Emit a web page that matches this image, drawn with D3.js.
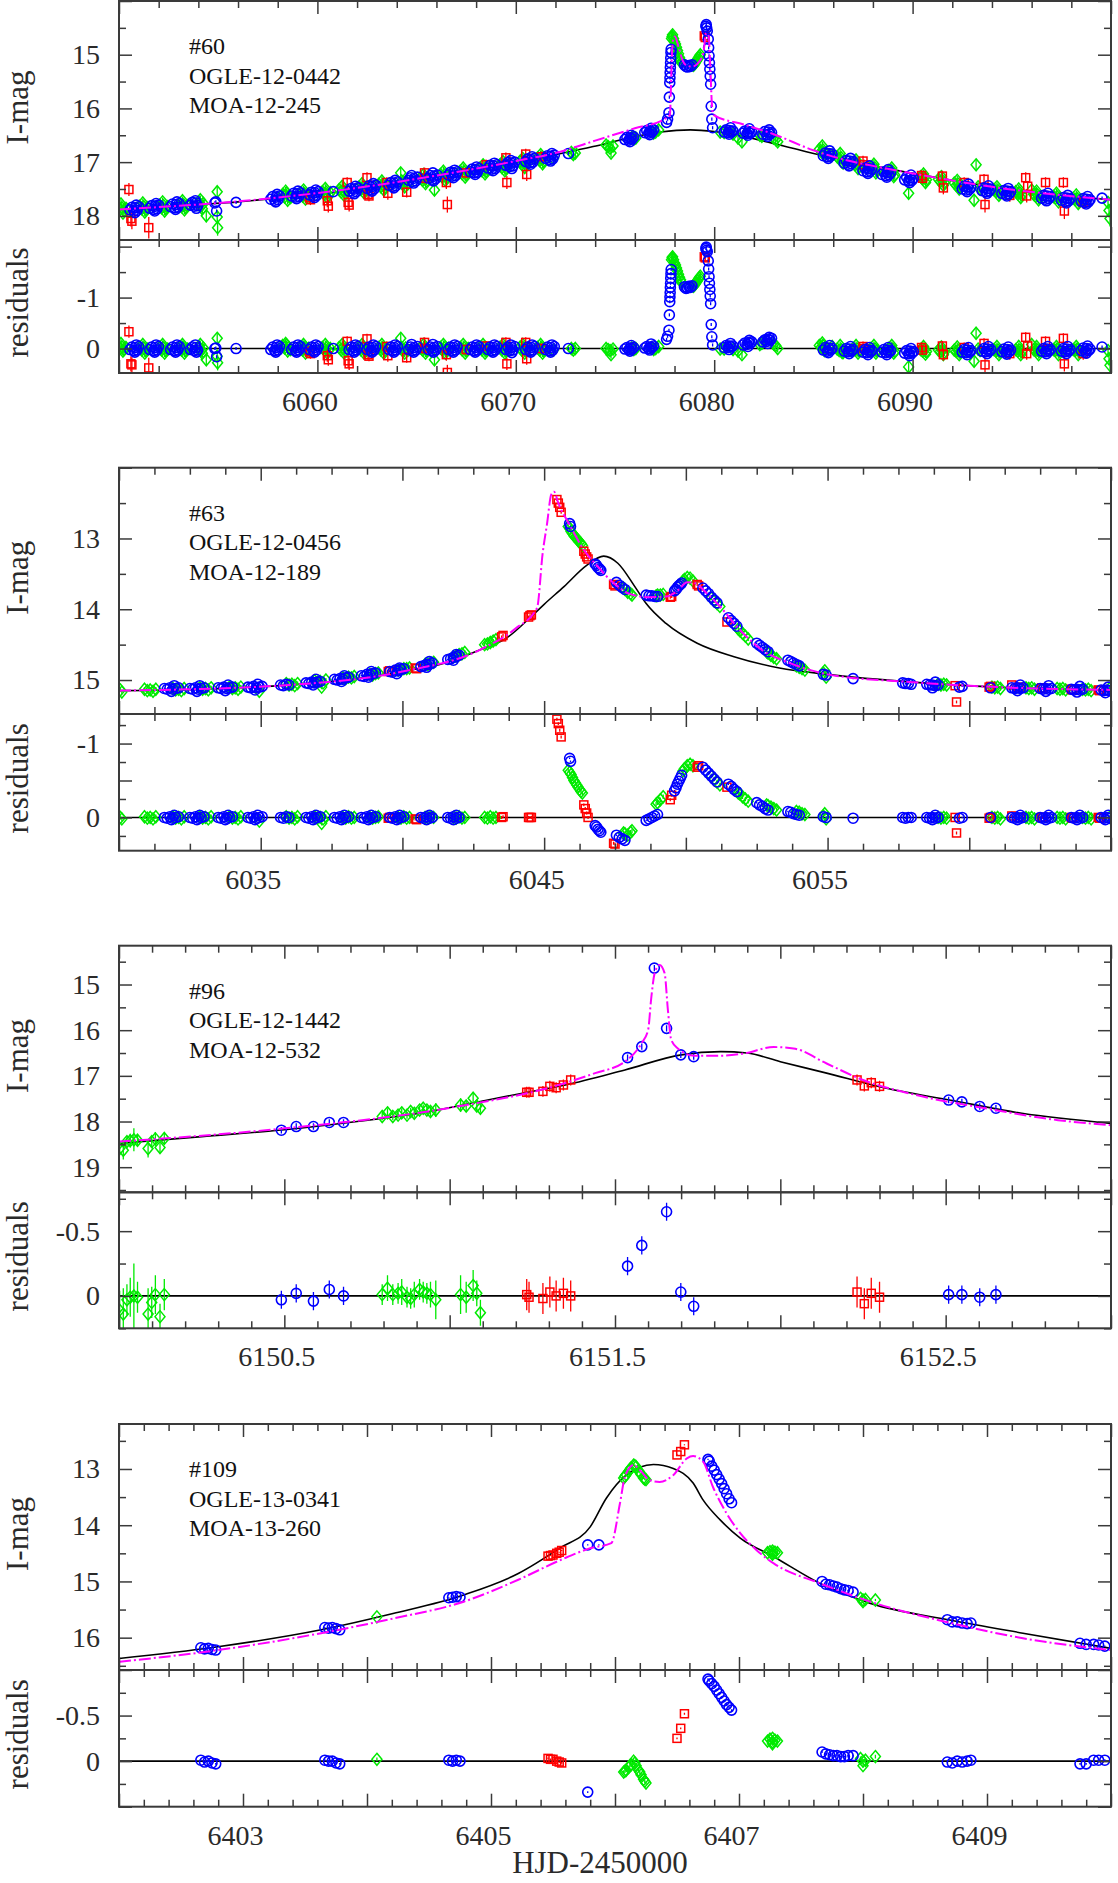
<!DOCTYPE html>
<html><head><meta charset="utf-8">
<script src="https://cdn.jsdelivr.net/npm/d3@7"></script>
<style>body{margin:0;background:#fff}svg{display:block}</style>
</head><body><svg id="c" width="1118" height="1883"></svg>
<script>
// ---------------- DATA ----------------
// each point: [HJD-2450000, I-mag, residual, (optional error)]
const p1Text=["#60","OGLE-12-0442","MOA-12-245"];
const p1XTicks=[6060,6070,6080,6090], p1YTicks=[15,16,17,18], p1RTicks=[-1,0];
const p1Err=[0.03,0.08,0.1]; // blue, green, red default errors
const p1Black=[[6050,17.88],[6052,17.84],[6054,17.79],[6056,17.74],[6058,17.67],[6060,17.6],[6062,17.5],[6064,17.39],[6066,17.27],[6068,17.14],[6070,17.01],[6072,16.86],[6073.9,16.71],[6075.6,16.56],[6077.3,16.44],[6078.8,16.4],[6080,16.43],[6081.2,16.5],[6082.3,16.59],[6083.5,16.7],[6084.8,16.82],[6086,16.92],[6088,17.07],[6090,17.21],[6092,17.34],[6094,17.46],[6096,17.56],[6098,17.64],[6100,17.7]];
const p1Magenta=[[6050,17.88],[6056,17.73],[6062,17.48],[6066,17.25],[6070,16.98],[6072.2,16.81],[6074,16.6],[6076,16.37],[6077.5,16.2],[6077.77,16.12],[6077.82,15.6],[6077.87,15.0],[6077.93,14.72],[6078.02,14.66],[6078.2,14.85],[6078.4,15.1],[6078.6,15.2],[6078.9,15.22],[6079.15,15.17],[6079.45,14.97],[6079.6,14.6],[6079.72,14.65],[6079.8,15.2],[6079.88,15.9],[6079.96,16.12],[6081.5,16.3],[6083,16.48],[6085,16.78],[6086.5,16.95],[6088,17.07],[6090,17.21],[6094,17.46],[6100,17.7]];
const p1Blue=[
[6050.55,17.89,0.02],[6050.65,17.84,-0.03],[6050.75,17.91,0.04],[6050.83,17.85,-0.02],[6050.91,17.9,0.03],[6050.99,17.83,-0.04],
[6051.55,17.86,0.02],[6051.65,17.81,-0.03],[6051.75,17.88,0.04],[6051.83,17.82,-0.02],[6051.91,17.87,0.03],[6051.99,17.8,-0.04],
[6052.6,17.83,0.02],[6052.7,17.78,-0.03],[6052.8,17.85,0.04],[6052.88,17.79,-0.02],[6052.96,17.84,0.03],[6053.04,17.77,-0.04],
[6053.6,17.8,0.02],[6053.7,17.75,-0.03],[6053.8,17.82,0.04],[6053.88,17.76,-0.02],[6053.96,17.81,0.03],[6053.85,17.72,-0.07],[6053.9,17.86,0.07],
[6054.83,17.76,0],[6054.88,17.74,-0.01],[6054.92,17.91,0.16],
[6055.9,17.75,0],
[6057.65,17.69,0.02],[6057.75,17.64,-0.03],[6057.85,17.71,0.04],[6057.93,17.65,-0.02],[6058.01,17.7,0.03],[6058.09,17.63,-0.04],
[6058.7,17.63,0.02],[6058.8,17.58,-0.03],[6058.9,17.65,0.04],[6058.98,17.59,-0.02],[6059.06,17.64,0.03],[6059.14,17.57,-0.04],
[6059.6,17.61,0.02],[6059.7,17.56,-0.03],[6059.8,17.63,0.04],[6059.88,17.57,-0.02],[6059.96,17.62,0.03],[6060.04,17.55,-0.04],
[6060.8,17.55,0],
[6061.6,17.54,0.02],[6061.7,17.49,-0.03],[6061.8,17.56,0.04],[6061.88,17.5,-0.02],[6061.96,17.55,0.03],[6062.04,17.48,-0.04],
[6062.5,17.49,0.02],[6062.6,17.44,-0.03],[6062.7,17.51,0.04],[6062.78,17.45,-0.02],[6062.86,17.5,0.03],[6062.94,17.43,-0.04],
[6063.6,17.43,0.02],[6063.7,17.38,-0.03],[6063.8,17.45,0.04],[6063.88,17.39,-0.02],[6063.96,17.44,0.03],[6064.04,17.37,-0.04],
[6064.6,17.34,0.02],[6064.7,17.29,-0.03],[6064.8,17.36,0.04],[6064.88,17.3,-0.02],[6064.96,17.35,0.03],[6065.04,17.28,-0.04],[6064.75,17.25,-0.08],
[6065.6,17.3,0.02],[6065.7,17.25,-0.03],[6065.8,17.32,0.04],[6065.88,17.26,-0.02],[6065.96,17.31,0.03],[6066.04,17.24,-0.04],[6065.82,17.2,-0.08],
[6066.6,17.24,0.02],[6066.7,17.19,-0.03],[6066.8,17.26,0.04],[6066.88,17.2,-0.02],[6066.96,17.25,0.03],[6067.04,17.18,-0.04],
[6067.7,17.18,0.02],[6067.8,17.13,-0.03],[6067.9,17.2,0.04],[6067.98,17.14,-0.02],[6068.06,17.19,0.03],[6068.14,17.12,-0.04],
[6068.6,17.11,0.02],[6068.7,17.06,-0.03],[6068.8,17.13,0.04],[6068.88,17.07,-0.02],[6068.96,17.12,0.03],[6069.04,17.05,-0.04],
[6069.5,17.06,0.02],[6069.6,17.01,-0.03],[6069.7,17.08,0.04],[6069.78,17.02,-0.02],[6069.86,17.07,0.03],[6069.94,17.0,-0.04],[6069.8,17.12,0.08],
[6070.5,16.99,0.02],[6070.6,16.94,-0.03],[6070.7,17.01,0.04],[6070.78,16.95,-0.02],[6070.86,17.0,0.03],[6070.94,16.93,-0.04],
[6071.5,16.93,0.02],[6071.6,16.88,-0.03],[6071.7,16.95,0.04],[6071.78,16.89,-0.02],[6071.86,16.94,0.03],[6071.94,16.87,-0.04],
[6072.65,16.84,0],
[6075.5,16.58,0.01],[6075.6,16.54,-0.02],[6075.7,16.59,0.02],[6075.78,16.55,-0.01],[6075.86,16.57,0.01],[6075.94,16.53,-0.02],
[6076.5,16.45,-0.01],[6076.6,16.41,-0.04],[6076.7,16.46,0],[6076.78,16.42,-0.03],[6076.86,16.44,-0.02],[6076.94,16.4,-0.05],
[6077.6,16.26,-0.18],[6077.65,16.2,-0.24],
[6077.72,16.08,-0.36],[6077.74,15.79,-0.66],[6077.76,15.52,-0.92],[6077.77,15.43,-1.01],[6077.78,15.33,-1.1],[6077.79,15.24,-1.2],[6077.8,15.15,-1.28],[6077.81,15.06,-1.38],[6077.82,14.96,-1.47],[6077.83,14.9,-1.55],
[6078.5,15.19,-1.21],[6078.58,15.22,-1.18],[6078.65,15.23,-1.19],[6078.72,15.2,-1.22],[6078.8,15.22,-1.2],[6078.88,15.19,-1.23],
[6079.58,14.47,-1.96],[6079.6,14.44,-1.99],[6079.62,14.5,-1.93],[6079.65,14.56,-1.9],
[6079.7,14.71,-1.72],[6079.72,14.87,-1.56],[6079.74,15.02,-1.41],[6079.76,15.15,-1.28],[6079.78,15.27,-1.16],[6079.8,15.4,-1.03],[6079.82,15.55,-0.88],[6079.85,15.96,-0.47],[6079.88,16.2,-0.23],[6079.92,16.36,-0.07],
[6080.5,16.44,-0.02],[6080.6,16.4,-0.06],[6080.7,16.45,-0.02],[6080.78,16.41,-0.05],[6080.86,16.44,-0.03],[6080.94,16.42,-0.05],
[6081.45,16.46,-0.07],[6081.55,16.42,-0.11],[6081.65,16.47,-0.08],[6081.73,16.43,-0.12],[6081.81,16.46,-0.1],[6081.89,16.44,-0.13],
[6082.45,16.48,-0.13],[6082.55,16.43,-0.17],[6082.65,16.49,-0.14],[6082.73,16.44,-0.18],[6082.81,16.48,-0.16],[6082.89,16.45,-0.2],
[6085.5,16.88,0.03],[6085.6,16.83,-0.02],[6085.7,16.9,0.05],[6085.78,16.84,-0.01],[6085.86,16.89,0.03],[6085.94,16.85,0],
[6086.55,17.02,0.05],[6086.65,16.97,0],[6086.75,17.04,0.06],[6086.83,16.98,0.01],[6086.91,17.03,0.05],[6086.99,16.99,0.02],
[6087.5,17.16,0.07],[6087.6,17.11,0.02],[6087.7,17.18,0.08],[6087.78,17.12,0.03],[6087.86,17.17,0.07],[6087.94,17.13,0.04],
[6088.45,17.23,0.07],[6088.55,17.18,0.02],[6088.65,17.25,0.08],[6088.73,17.19,0.03],[6088.81,17.24,0.07],[6088.89,17.2,0.04],
[6089.6,17.33,0.09],[6089.7,17.28,0.04],[6089.8,17.35,0.1],[6089.88,17.29,0.05],[6089.96,17.34,0.09],[6090.04,17.3,0.06],
[6092.5,17.5,0.07],[6092.6,17.45,0.02],[6092.7,17.52,0.08],[6092.78,17.46,0.03],[6092.86,17.51,0.07],[6092.94,17.47,0.04],
[6093.5,17.53,0.05],[6093.6,17.48,0],[6093.7,17.55,0.06],[6093.78,17.49,0.01],[6093.86,17.54,0.05],[6093.94,17.5,0.02],
[6094.5,17.58,0.06],[6094.6,17.53,0.01],[6094.7,17.6,0.07],[6094.78,17.54,0.02],[6094.86,17.59,0.06],[6094.94,17.55,0.03],
[6096.5,17.67,0.05],[6096.6,17.62,0],[6096.7,17.69,0.06],[6096.78,17.63,0.01],[6096.86,17.68,0.05],[6096.94,17.64,0.02],
[6097.5,17.71,0.05],[6097.6,17.66,0],[6097.7,17.73,0.06],[6097.78,17.67,0.01],[6097.86,17.72,0.05],[6097.94,17.68,0.02],
[6098.5,17.73,0.04],[6098.6,17.68,-0.01],[6098.7,17.75,0.05],[6098.78,17.69,0],[6098.86,17.74,0.04],[6098.94,17.7,0.01],
[6099.55,17.67,-0.03]];
const p1BlueMore=[[6050.8,17.94,0.07],[6050.87,17.8,-0.07],[6051.8,17.91,0.07],[6051.87,17.77,-0.07],[6052.85,17.88,0.07],[6052.92,17.74,-0.07],[6057.9,17.74,0.07],[6057.97,17.6,-0.07],[6058.95,17.68,0.07],[6059.02,17.54,-0.07],[6059.85,17.66,0.07],[6059.92,17.52,-0.07],[6061.85,17.59,0.07],[6061.92,17.45,-0.07],[6062.75,17.54,0.07],[6062.82,17.4,-0.07],[6063.85,17.48,0.07],[6063.92,17.34,-0.07],[6064.85,17.39,0.07],[6065.85,17.35,0.07],[6066.85,17.29,0.07],[6066.92,17.15,-0.07],[6067.95,17.23,0.07],[6068.02,17.09,-0.07],[6068.85,17.16,0.07],[6068.92,17.02,-0.07],[6069.75,16.97,-0.07],[6070.75,17.04,0.07],[6070.82,16.9,-0.07],[6071.75,16.98,0.07],[6071.82,16.84,-0.07],[6075.75,16.62,0.05],[6075.82,16.5,-0.06],[6076.75,16.49,0.03],[6076.82,16.37,-0.09],[6080.75,16.48,0.02],[6080.82,16.36,-0.1],[6081.7,16.5,-0.04],[6081.77,16.38,-0.16],[6082.7,16.52,-0.1],[6082.77,16.4,-0.22],[6085.75,16.93,0.08],[6085.82,16.79,-0.06],[6086.8,17.07,0.1],[6086.87,16.93,-0.04],[6087.75,17.21,0.12],[6087.82,17.07,-0.02],[6088.7,17.28,0.12],[6088.77,17.14,-0.02],[6089.85,17.38,0.14],[6089.92,17.24,0],[6092.75,17.55,0.12],[6092.82,17.41,-0.02],[6093.75,17.58,0.1],[6093.82,17.44,-0.04],[6094.75,17.63,0.11],[6094.82,17.49,-0.03],[6096.75,17.72,0.1],[6096.82,17.58,-0.04],[6097.75,17.76,0.1],[6097.82,17.62,-0.04],[6098.75,17.78,0.09],[6098.82,17.64,-0.05]];
const p1Green=[
[6049.98,17.84,-0.04],[6050.05,17.88,0],[6050.15,17.85,-0.03],[6050.25,17.9,0.02],[6050.35,17.86,-0.02],
[6051.05,17.82,-0.02],[6051.15,17.87,0.03],[6051.25,17.83,-0.01],[6051.35,17.88,0.04],[6051.45,17.85,0.01],
[6052.05,17.8,-0.02],[6052.15,17.85,0.03],[6052.25,17.81,-0.01],[6052.35,17.86,0.04],[6052.45,17.83,0.01],
[6053.05,17.78,-0.02],[6053.15,17.83,0.03],[6053.25,17.79,-0.01],[6053.35,17.84,0.04],[6053.45,17.81,0.01],
[6054.05,17.76,-0.02],[6054.15,17.81,0.03],[6054.25,17.77,-0.01],[6054.4,18.0,0.22,0.12],
[6054.95,17.55,-0.2,0.1],[6054.95,18.02,0.15,0.12],[6054.97,18.22,0.28,0.15],
[6058.25,17.6,-0.06],[6058.35,17.65,-0.01],[6058.45,17.58,-0.07],[6058.55,17.63,-0.02],[6058.65,17.66,0.02],
[6059.15,17.58,-0.02],[6059.25,17.63,0.03],[6059.35,17.59,-0.01],[6059.45,17.64,0.04],[6059.55,17.6,0],
[6060.25,17.55,-0.02],[6060.35,17.6,0.03],[6060.45,17.56,-0.01],[6060.55,17.61,0.04],[6060.65,17.57,0],
[6061.1,17.51,-0.02],[6061.2,17.56,0.03],[6061.3,17.52,-0.01],[6061.4,17.57,0.04],[6061.5,17.53,0],
[6062.1,17.46,-0.02],[6062.2,17.51,0.03],[6062.3,17.47,-0.01],[6062.4,17.52,0.04],[6062.5,17.48,0],
[6063.1,17.41,-0.02],[6063.2,17.46,0.03],[6063.3,17.42,-0.01],[6063.4,17.47,0.04],[6063.5,17.43,0],
[6064.2,17.2,-0.2,0.1],[6064.25,17.35,-0.02],[6064.35,17.4,0.03],[6064.45,17.36,-0.01],[6064.55,17.41,0.04],
[6065.2,17.29,-0.02],[6065.3,17.34,0.03],[6065.4,17.3,-0.01],[6065.5,17.35,0.04],[6065.9,17.52,0.22,0.1],
[6066.2,17.23,-0.02],[6066.3,17.28,0.03],[6066.4,17.24,-0.01],[6066.5,17.29,0.04],[6066.6,17.25,0],
[6067.2,17.17,-0.02],[6067.3,17.22,0.03],[6067.4,17.18,-0.01],[6067.5,17.23,0.04],[6067.6,17.19,0],
[6068.2,17.11,-0.02],[6068.3,17.16,0.03],[6068.4,17.12,-0.01],[6068.5,17.17,0.04],[6068.6,17.13,0],
[6069.2,17.05,-0.02],[6069.3,17.1,0.03],[6069.4,17.06,-0.01],[6069.5,17.11,0.04],[6069.6,17.07,0],
[6070.2,16.99,-0.02],[6070.3,17.04,0.03],[6070.4,17.0,-0.01],[6070.5,17.05,0.04],[6070.6,17.01,0],
[6071.1,16.92,-0.02],[6071.2,16.97,0.03],[6071.3,16.93,-0.01],[6071.4,16.98,0.04],[6071.9,16.93,0.03],
[6072.8,16.82,0],[6072.9,16.86,0.03],[6073.0,16.83,0],
[6074.55,16.68,0],[6074.65,16.71,0.02],[6074.75,16.74,0.04],[6074.8,16.83,0.12],[6074.9,16.7,0.01],
[6075.85,16.54,-0.01],[6075.95,16.57,0.02],[6076.05,16.55,0],
[6076.85,16.43,-0.01],[6076.95,16.46,0.02],[6077.05,16.44,0],[6077.2,16.4,-0.04],
[6077.85,14.7,-1.74],[6077.88,14.66,-1.78],[6077.9,14.63,-1.8],[6077.95,14.7,-1.74],[6078.0,14.76,-1.68],[6078.05,14.8,-1.64],[6078.1,14.86,-1.58],[6078.15,14.92,-1.52],[6078.2,14.98,-1.46],[6078.25,15.05,-1.4],[6078.3,15.1,-1.35],[6078.35,15.15,-1.3],
[6078.95,15.2,-1.22],[6079.0,15.18,-1.24],[6079.05,15.15,-1.27],[6079.1,15.12,-1.3],[6079.15,15.09,-1.33],[6079.2,15.06,-1.36],[6079.25,15.03,-1.39],[6079.3,15.0,-1.42],
[6080.3,16.44,0.01],[6080.5,16.45,0.01],[6080.95,16.48,0.02],[6081.2,16.55,0.05],[6081.4,16.62,0.12],[6082.3,16.5,-0.08],[6082.4,16.52,-0.1],[6083.0,16.55,-0.09],[6083.1,16.58,-0.06],[6083.2,16.62,0],
[6085.3,16.76,-0.06],[6085.4,16.8,-0.03],[6085.5,16.78,-0.05],[6085.6,16.83,-0.02],[6085.95,16.87,-0.04],
[6086.2,16.9,0.01],[6086.3,16.94,0.04],[6086.4,16.92,0.02],[6086.5,17.02,0.08],
[6087.0,17.01,0],[6087.1,17.05,0.03],[6087.2,17.03,0.01],[6087.3,17.07,0.04],
[6087.9,17.09,0],[6088.0,17.13,0.03],[6088.1,17.11,0.01],[6088.2,17.15,0.04],
[6088.8,17.16,0],[6088.9,17.2,0.03],[6089.0,17.18,0.01],[6089.1,17.24,0.06],
[6089.8,17.58,0.36,0.1],
[6090.4,17.27,0.02],[6090.5,17.31,0.05],[6090.6,17.29,0.03],[6090.7,17.33,0.06],
[6091.3,17.32,0.03],[6091.4,17.36,0.06],[6091.5,17.34,0.04],[6091.6,17.38,0.07],
[6092.1,17.39,0.03],[6092.2,17.43,0.06],[6092.3,17.41,0.04],[6092.4,17.45,0.07],
[6093.1,17.71,0.25,0.1],[6093.2,17.05,-0.3,0.1],[6093.3,17.46,0.01],[6093.4,17.5,0.04],
[6094.1,17.51,0.02],[6094.2,17.55,0.05],[6094.3,17.53,0.03],[6094.4,17.57,0.06],
[6095.2,17.55,0.02],[6095.3,17.59,0.05],[6095.4,17.57,0.03],[6095.5,17.61,0.06],
[6096.0,17.52,-0.08],[6096.1,17.6,0.02],[6096.2,17.63,0.04],[6096.3,17.61,0.03],[6096.4,17.65,0.05],
[6097.1,17.64,0.02],[6097.2,17.67,0.04],[6097.3,17.65,0.02],[6097.4,17.69,0.05],
[6098.1,17.67,0.02],[6098.2,17.7,0.04],[6098.3,17.68,0.02],[6098.4,17.72,0.05],
[6099.85,17.75,0.04],[6099.9,17.9,0.2,0.12],[6099.95,18.05,0.33,0.15]];
const p1GreenMore=[[6050.2,17.95,0.05],[6050.1,17.78,-0.1],[6051.3,17.93,0.09],[6051.2,17.76,-0.08],[6052.3,17.91,0.09],[6052.2,17.74,-0.08],[6053.3,17.89,0.09],[6053.2,17.72,-0.08],[6054.2,17.87,0.09],[6054.1,17.7,-0.08],[6058.5,17.71,0.05],[6058.4,17.54,-0.1],[6059.4,17.69,0.09],[6059.3,17.52,-0.08],[6060.5,17.66,0.09],[6060.4,17.49,-0.08],[6061.35,17.62,0.09],[6061.25,17.45,-0.08],[6062.35,17.57,0.09],[6062.25,17.4,-0.08],[6063.35,17.52,0.09],[6063.25,17.35,-0.08],[6064.4,17.46,0.09],[6065.45,17.4,0.09],[6065.35,17.23,-0.08],[6066.45,17.34,0.09],[6066.35,17.17,-0.08],[6067.45,17.28,0.09],[6067.35,17.11,-0.08],[6068.45,17.22,0.09],[6068.35,17.05,-0.08],[6069.45,17.16,0.09],[6069.35,16.99,-0.08],[6070.45,17.1,0.09],[6070.35,16.93,-0.08],[6071.35,17.03,0.09],[6071.25,16.86,-0.08],[6085.55,16.87,0.04],[6085.45,16.7,-0.11],[6086.45,17.0,0.08],[6086.35,16.84,-0.06],[6087.25,17.12,0.09],[6087.15,16.96,-0.06],[6088.15,17.2,0.09],[6088.05,17.04,-0.06],[6089.05,17.27,0.09],[6088.95,17.11,-0.06],[6090.65,17.38,0.11],[6090.55,17.22,-0.04],[6091.55,17.43,0.12],[6091.45,17.27,-0.03],[6092.35,17.5,0.12],[6092.25,17.34,-0.03],[6094.35,17.62,0.12],[6094.25,17.46,-0.04],[6095.45,17.66,0.12],[6095.35,17.5,-0.04],[6096.35,17.7,0.12],[6096.25,17.54,-0.04],[6097.35,17.74,0.12],[6097.25,17.58,-0.04],[6098.35,17.77,0.12],[6098.25,17.61,-0.04]];
const p1Red=[[6050.5,17.51,-0.33,0.12],[6050.6,18.05,0.3,0.15],[6050.65,18.1,0.32,0.15],[6051.5,18.22,0.38,0.2],[6059.6,17.66,0.06,0.12],[6059.65,17.7,0.1],[6060.5,17.72,0.14,0.12],[6060.55,17.82,0.22,0.12],[6061.5,17.38,-0.14],[6061.55,17.75,0.24,0.12],[6061.6,17.8,0.3,0.12],[6062.5,17.29,-0.19],[6062.55,17.6,0.12],[6062.6,17.63,0.15],[6063.5,17.38,-0.04],[6063.55,17.58,0.14,0.12],[6064.5,17.56,0.18],[6065.4,17.2,-0.12],[6065.45,17.3,0],[6066.5,17.38,0.12,0.12],[6066.55,17.79,0.47,0.15],[6067.5,17.2,0.02],[6068.5,17.05,-0.05],[6069.5,16.92,-0.12],[6069.55,17.38,0.3,0.12],[6070.5,16.85,-0.12],[6070.55,17.23,0.2,0.12],[6071.3,16.9,0],[6079.5,14.65,-1.8,0.05],[6079.55,14.68,-1.78,0.05],[6087.5,16.98,-0.04],[6087.55,17.05,0],[6090.45,17.25,-0.02],[6090.5,17.3,0.03],[6091.5,17.26,-0.05],[6091.55,17.48,0.12,0.12],[6092.6,17.38,-0.02],[6093.6,17.32,-0.1],[6093.65,17.79,0.32,0.15],[6094.9,17.62,0.1,0.12],[6095.7,17.29,-0.22],[6095.75,17.63,0.1,0.12],[6095.8,17.45,-0.05],[6096.7,17.38,-0.14],[6097.6,17.38,-0.2],[6097.65,17.91,0.3,0.15],[6098.6,17.75,0.1,0.12]];

const p2Text=["#63","OGLE-12-0456","MOA-12-189"];
const p2XTicks=[6035,6045,6055], p2YTicks=[13,14,15], p2RTicks=[-1,0];
const p2Err=[0.01,0.03,0.02];
const p2Black=[[6030,15.15],[6033,15.13],[6036,15.07],[6038,15.0],[6040,14.88],[6041.5,14.76],[6042.7,14.58],[6043.7,14.4],[6044.5,14.12],[6045,13.93],[6045.7,13.68],[6046.5,13.38],[6047.1,13.25],[6047.6,13.35],[6048.2,13.68],[6048.6,13.92],[6049.3,14.2],[6050.4,14.48],[6051.7,14.67],[6053.3,14.83],[6055,14.92],[6058,15.03],[6061,15.1],[6065,15.14]];
const p2Magenta=[[6030,15.15],[6036,15.07],[6040,14.88],[6042.7,14.58],[6044,14.27],[6044.75,13.98],[6044.95,13.2],[6045.1,12.8],[6045.25,12.38],[6045.35,12.34],[6045.5,12.5],[6045.9,12.81],[6046.4,13.16],[6046.9,13.4],[6047.45,13.63],[6048.0,13.78],[6048.7,13.83],[6049.3,13.82],[6049.7,13.74],[6050.05,13.62],[6050.3,13.63],[6050.75,13.78],[6051.2,13.96],[6051.9,14.29],[6052.7,14.58],[6053.6,14.75],[6054.4,14.86],[6055,14.92],[6058,15.03],[6061,15.1],[6065,15.14]];
const p2Blue=[
[6031.6,15.12,0],[6031.7,15.13,0.01],[6031.8,15.11,-0.01],[6031.9,15.13,0.01],[6032.0,15.12,0],[6032.1,15.11,-0.01],
[6032.5,15.12,0],[6032.6,15.13,0.01],[6032.7,15.11,-0.01],[6032.8,15.13,0.01],[6032.9,15.12,0],[6033.0,15.11,-0.01],
[6033.5,15.11,0],[6033.6,15.12,0.01],[6033.7,15.1,-0.01],[6033.8,15.12,0.01],[6033.9,15.11,0],[6034.0,15.1,-0.01],
[6034.55,15.1,0],[6034.65,15.11,0.01],[6034.75,15.09,-0.01],[6034.85,15.11,0.01],[6034.95,15.1,0],[6035.05,15.09,-0.01],
[6035.7,15.07,0],[6035.8,15.08,0.01],[6035.9,15.06,-0.01],[6036.0,15.07,0],
[6036.6,15.04,0],[6036.7,15.05,0.01],[6036.8,15.03,-0.01],[6036.9,15.04,0.01],[6037.0,15.03,0],[6037.1,15.02,-0.01],
[6037.6,14.99,0],[6037.7,15.0,0.01],[6037.8,14.98,-0.01],[6037.9,14.99,0.01],[6038.0,14.97,0],[6038.1,14.96,-0.01],
[6038.55,14.94,0],[6038.65,14.95,0.01],[6038.75,14.92,-0.01],[6038.85,14.93,0.01],[6038.95,14.91,0],[6039.05,14.9,-0.01],
[6039.55,14.88,0],[6039.65,14.89,0.01],[6039.75,14.86,-0.01],[6039.85,14.87,0.01],[6039.95,14.85,0],[6040.05,14.84,-0.01],
[6040.65,14.81,0],[6040.75,14.8,0.01],[6040.85,14.78,-0.01],[6040.95,14.78,0.01],[6041.05,14.76,0],
[6041.6,14.71,0],[6041.7,14.7,0.01],[6041.8,14.68,-0.01],[6041.9,14.67,0.01],[6042.0,14.65,0],
[6045.9,12.79,-0.8],[6045.93,12.83,-0.76],
[6046.8,13.36,0.11],[6046.85,13.38,0.13],[6046.9,13.41,0.16],[6046.95,13.43,0.18],[6047.0,13.45,0.2],
[6047.55,13.62,0.24],[6047.65,13.66,0.27],[6047.75,13.69,0.29],[6047.85,13.72,0.31],
[6048.6,13.8,0.04],[6048.7,13.81,0.02],[6048.8,13.81,0],[6048.9,13.82,-0.02],[6049.0,13.82,-0.04],
[6049.6,13.74,-0.36],[6049.65,13.72,-0.4],[6049.7,13.69,-0.45],[6049.75,13.67,-0.49],[6049.8,13.65,-0.53],[6049.85,13.63,-0.57],
[6050.6,13.7,-0.68],[6050.7,13.74,-0.64],[6050.8,13.78,-0.6],[6050.9,13.83,-0.56],[6051.0,13.87,-0.52],[6051.1,13.91,-0.48],
[6051.5,14.12,-0.45],[6051.6,14.16,-0.42],[6051.7,14.2,-0.38],[6051.8,14.24,-0.35],
[6052.5,14.48,-0.2],[6052.6,14.51,-0.17],[6052.7,14.54,-0.15],[6052.8,14.57,-0.12],[6052.9,14.6,-0.1],
[6053.6,14.72,-0.08],[6053.7,14.74,-0.07],[6053.8,14.76,-0.05],[6053.9,14.78,-0.04],[6054.0,14.8,-0.03],
[6054.85,14.92,-0.01],[6054.95,14.93,0],
[6055.9,14.98,0.01],
[6057.65,15.04,0],[6057.75,15.05,0.01],[6057.85,15.05,0],[6057.95,15.06,0],
[6058.5,15.06,0],[6058.6,15.07,0.01],[6058.7,15.07,0],[6058.8,15.08,0.01],[6058.9,15.07,0],
[6059.65,15.1,0.01],[6059.75,15.09,0],
[6060.75,15.11,0],
[6061.5,15.11,0],[6061.6,15.12,0.01],[6061.7,15.11,0],[6061.8,15.12,0.01],[6061.9,15.11,0],
[6062.5,15.12,0],[6062.6,15.13,0.01],[6062.7,15.12,0],[6062.8,15.13,0.01],[6062.9,15.12,0],
[6063.6,15.13,0],[6063.7,15.14,0.01],[6063.8,15.13,0],[6063.9,15.14,0.01],[6064.0,15.13,0],
[6064.65,15.14,0],[6064.75,15.15,0.01],[6064.85,15.14,0],[6064.95,15.15,0.01]];
const p2BlueMore=[[6031.85,15.16,0.03],[6031.95,15.08,-0.03],[6032.75,15.16,0.03],[6032.85,15.08,-0.03],[6033.75,15.15,0.03],[6033.85,15.07,-0.03],[6034.8,15.14,0.03],[6034.9,15.06,-0.03],[6036.85,15.07,0.03],[6036.95,14.99,-0.03],[6037.85,15.02,0.03],[6037.95,14.94,-0.03],[6038.8,14.96,0.03],[6038.9,14.88,-0.03],[6039.8,14.91,0.03],[6039.9,14.83,-0.03],[6040.85,14.82,0.03],[6040.95,14.74,-0.03],[6041.8,14.72,0.03],[6041.9,14.64,-0.03],[6058.7,15.11,0.03],[6058.8,15.03,-0.03],[6061.7,15.15,0.03],[6061.8,15.07,-0.03],[6062.7,15.16,0.03],[6062.8,15.08,-0.03],[6063.8,15.17,0.03],[6063.9,15.09,-0.03],[6064.8,15.18,0.03],[6064.9,15.1,-0.03]];
const p2Green=[
[6030.05,15.14,0],[6030.1,15.17,0.02],
[6030.9,15.13,-0.01],[6031.0,15.15,0.01],[6031.1,15.14,0],[6031.2,15.16,0.02],[6031.3,15.13,-0.01],
[6031.9,15.12,-0.01],[6032.0,15.14,0.01],[6032.1,15.13,0],[6032.2,15.15,0.02],[6032.3,15.12,-0.01],
[6032.85,15.11,-0.01],[6032.95,15.13,0.01],[6033.05,15.12,0],[6033.15,15.14,0.02],[6033.25,15.11,-0.01],
[6033.9,15.1,-0.01],[6034.0,15.12,0.01],[6034.1,15.11,0],[6034.2,15.13,0.02],[6034.3,15.1,-0.01],
[6034.95,15.16,0.05],
[6035.9,15.05,-0.01],[6036.0,15.07,0.01],[6036.1,15.06,0],[6036.2,15.08,0.02],[6036.3,15.05,-0.01],
[6036.9,15.01,-0.01],[6037.0,15.03,0.01],[6037.1,15.02,0],[6037.2,15.04,0.02],[6037.3,15.0,-0.01],[6037.15,15.1,0.08],
[6037.9,14.97,0],[6038.0,14.98,0.01],[6038.1,14.96,-0.01],[6038.2,14.97,0.01],[6038.3,14.95,0],
[6038.85,14.92,0],[6038.95,14.93,0.01],[6039.05,14.91,0],[6039.15,14.9,-0.01],
[6039.85,14.86,0],[6039.95,14.86,0.01],[6040.05,14.84,-0.01],[6040.15,14.84,0.01],[6040.25,14.83,0],
[6040.8,14.78,0],[6040.9,14.78,0.01],[6041.0,14.76,-0.01],[6041.1,14.75,0],
[6041.8,14.67,0],[6041.9,14.66,0.01],[6042.0,14.64,-0.01],[6042.1,14.63,0.01],[6042.2,14.61,0],
[6042.9,14.5,0],[6043.0,14.49,0.01],[6043.1,14.47,-0.01],[6043.2,14.45,0.01],[6043.3,14.43,0],
[6045.85,12.83,-0.64],[6045.9,12.86,-0.61],[6045.95,12.9,-0.58],[6046.0,12.93,-0.54],[6046.05,12.96,-0.5],[6046.1,12.98,-0.47],[6046.15,13.0,-0.44],[6046.2,13.03,-0.41],[6046.25,13.05,-0.38],[6046.3,13.07,-0.35],[6046.35,13.1,-0.33],
[6047.8,13.7,0.21],[6047.85,13.72,0.22],[6047.95,13.76,0.24],[6048.05,13.78,0.2],[6048.1,13.8,0.18],
[6048.95,13.81,-0.18],[6049.0,13.8,-0.2],[6049.1,13.8,-0.24],[6049.2,13.79,-0.28],
[6049.9,13.6,-0.63],[6049.95,13.58,-0.66],[6050.05,13.55,-0.7],[6050.15,13.56,-0.72],[6050.25,13.6,-0.7],
[6050.9,13.84,-0.56],[6051.0,13.88,-0.52],[6051.1,13.92,-0.48],[6051.2,13.96,-0.44],
[6051.85,14.28,-0.33],[6051.9,14.3,-0.32],[6052.0,14.34,-0.28],[6052.1,14.38,-0.25],[6052.2,14.42,-0.22],
[6052.85,14.6,-0.17],[6052.9,14.62,-0.16],[6053.0,14.65,-0.14],[6053.1,14.68,-0.12],[6053.2,14.7,-0.1],
[6053.9,14.8,-0.08],[6054.0,14.82,-0.07],[6054.1,14.84,-0.05],[6054.2,14.86,-0.04],
[6054.85,14.9,-0.02],[6054.95,14.96,0.02],[6054.9,14.87,-0.05],
[6058.9,15.06,0],[6059.0,15.07,0.01],[6059.1,15.06,0],[6059.2,15.07,0.01],
[6060.8,15.1,0],[6060.9,15.11,0.01],[6061.0,15.1,0],[6061.1,15.12,0.02],
[6062.0,15.11,0],[6062.1,15.12,0.01],[6062.2,15.11,0],[6062.3,15.13,0.02],
[6063.1,15.12,0],[6063.2,15.13,0.01],[6063.3,15.12,0],[6063.4,15.14,0.02],
[6064.0,15.13,0],[6064.1,15.14,0.01],[6064.2,15.13,0],[6064.3,15.15,0.02],
[6064.95,15.12,0]];
const p2Red=[[6039.5,14.88,0.01],[6039.55,14.87,0],[6040.45,14.83,0.02],[6040.5,14.84,0.03],[6043.5,14.39,0],[6043.55,14.37,-0.01],[6044.45,14.11,0],[6044.5,14.09,0],[6044.55,14.08,0],[6045.45,12.45,-1.33],[6045.5,12.5,-1.27],[6045.55,12.56,-1.18],[6045.6,12.63,-1.09],[6046.4,13.18,-0.17],[6046.45,13.22,-0.12],[6046.5,13.26,-0.06],[6046.55,13.29,0],[6047.45,13.65,0.35],[6047.5,13.67,0.36],[6049.45,13.83,-0.24],[6049.5,13.82,-0.3],[6050.4,13.65,-0.68],[6050.45,13.67,-0.7],[6051.45,14.18,-0.41],[6059.5,15.08,0],[6059.55,15.31,0.21],[6060.7,15.1,0.01],[6060.75,15.09,0],[6061.5,15.07,-0.02],[6061.75,15.1,0],[6062.55,15.11,0],[6062.6,15.12,0],[6063.6,15.13,0],[6063.65,15.14,0.01],[6064.55,15.14,0],[6064.6,15.15,0.01]];

const p3Text=["#96","OGLE-12-1442","MOA-12-532"];
const p3XTicks=[6150.5,6151.5,6152.5], p3YTicks=[15,16,17,18,19], p3RTicks=[-0.5,0];
const p3Err=[0.07,0.15,0.12];
const p3Black=[[6150,18.48],[6150.25,18.33],[6150.5,18.18],[6150.72,18.0],[6150.94,17.78],[6151.1,17.55],[6151.22,17.38],[6151.35,17.2],[6151.53,16.87],[6151.7,16.54],[6151.82,16.47],[6151.9,16.5],[6152.0,16.69],[6152.14,16.94],[6152.3,17.24],[6152.52,17.54],[6152.73,17.82],[6153,18.04]];
const p3Magenta=[[6150,18.44],[6150.5,18.15],[6151,17.7],[6151.33,17.2],[6151.44,16.94],[6151.53,16.69],[6151.58,16.29],[6151.6,16.0],[6151.61,15.27],[6151.62,14.75],[6151.635,14.57],[6151.65,14.75],[6151.66,15.56],[6151.67,16.21],[6151.69,16.4],[6151.74,16.56],[6151.82,16.56],[6151.89,16.51],[6151.98,16.37],[6152.04,16.4],[6152.14,16.73],[6152.25,17.09],[6152.41,17.42],[6152.62,17.71],[6152.84,17.97],[6153,18.08]];
const p3Blue=[[6150.491,18.19,0.03],[6150.536,18.11,-0.02],[6150.588,18.11,0.04],[6150.636,18.02,-0.05],[6150.679,18.02,0],[6151.538,16.6,-0.23],[6151.581,16.36,-0.39],[6151.619,14.64,null],[6151.656,15.96,-0.65],[6151.699,16.54,-0.03],[6151.738,16.58,0.08],[6152.509,17.53,-0.01],[6152.549,17.57,-0.01],[6152.603,17.67,0.01],[6152.652,17.71,-0.01]];
const p3Green=[[6150.002,18.59,0.11,0.15],[6150.013,18.63,0.14,0.2],[6150.024,18.44,0.03,0.12],[6150.034,18.42,0.01,0.15],[6150.045,18.4,0,0.25],[6150.056,18.41,0.01,0.12],[6150.088,18.59,0.14,0.2],[6150.099,18.44,0.05,0.12],[6150.11,18.38,-0.01,0.15],[6150.124,18.57,0.16,0.1],[6150.137,18.37,-0.01,0.12],[6150.796,17.89,-0.01,0.08],[6150.812,17.81,-0.06,0.1],[6150.828,17.89,-0.01,0.08],[6150.844,17.86,-0.02,0.08],[6150.855,17.81,-0.03,0.1],[6150.871,17.86,0.01,0.08],[6150.882,17.78,0.02,0.08],[6150.893,17.82,-0.01,0.1],[6150.909,17.75,-0.05,0.08],[6150.92,17.71,-0.03,0.08],[6150.931,17.75,-0.02,0.08],[6150.942,17.78,-0.01,0.1],[6150.958,17.75,0.03,0.15],[6151.033,17.64,-0.01,0.15],[6151.05,17.66,0.01,0.12],[6151.071,17.49,-0.08,0.12],[6151.082,17.66,-0.02,0.1],[6151.093,17.71,0.13,0.1]];
const p3Red=[[6151.233,17.36,-0.01],[6151.24,17.36,0.01],[6151.282,17.34,0.02],[6151.303,17.23,-0.03],[6151.322,17.26,0],[6151.344,17.2,-0.02],[6151.366,17.09,0],[6152.232,17.09,-0.03],[6152.254,17.22,0.06],[6152.275,17.15,-0.02],[6152.3,17.23,0.01]];

const p4Text=["#109","OGLE-13-0341","MOA-13-260"];
const p4XTicks=[6403,6405,6407,6409], p4YTicks=[13,14,15,16], p4RTicks=[-0.5,0];
const p4Err=[0.01,0.02,0.01];
const p4Black=[[6402,16.37],[6402.77,16.17],[6403.63,15.86],[6404.21,15.57],[6404.78,15.24],[6405.22,14.86],[6405.56,14.4],[6405.8,14.03],[6405.93,13.52],[6406.09,13.11],[6406.31,12.92],[6406.47,12.99],[6406.63,13.25],[6406.71,13.55],[6406.85,13.91],[6407.01,14.23],[6407.28,14.56],[6407.65,15.03],[6408.06,15.39],[6408.71,15.69],[6409.29,15.92],[6410,16.19]];
const p4Magenta=[[6402,16.43],[6402.77,16.23],[6403.63,15.92],[6404.21,15.66],[6404.78,15.36],[6405.22,14.97],[6405.56,14.62],[6405.8,14.41],[6405.97,14.32],[6406.04,13.61],[6406.08,13.14],[6406.15,12.93],[6406.2,13.02],[6406.28,13.2],[6406.36,13.23],[6406.47,13.11],[6406.58,12.81],[6406.63,12.77],[6406.71,12.87],[6406.79,13.32],[6406.9,13.79],[6407.01,14.14],[6407.14,14.44],[6407.28,14.68],[6407.65,15.03],[6408.06,15.36],[6408.71,15.74],[6409.29,16.01],[6410,16.22]];
const p4Blue=[[6402.66,16.18,-0.01],[6402.69,16.2,0.01],[6402.72,16.19,0],[6402.75,16.21,0.02],[6402.78,16.22,0.03],[6403.66,15.82,-0.01],[6403.69,15.83,0],[6403.72,15.82,0],[6403.75,15.84,0.02],[6403.78,15.86,0.03],[6404.66,15.29,-0.01],[6404.69,15.28,0],[6404.72,15.27,-0.01],[6404.75,15.28,0],[6405.78,14.35,0.34],[6405.87,14.35,null],[6406.75,12.83,-0.9],[6406.76,12.86,-0.88],[6406.78,12.95,-0.85],[6406.8,13.02,-0.82],[6406.82,13.1,-0.78],[6406.84,13.18,-0.74],[6406.86,13.26,-0.7],[6406.88,13.35,-0.66],[6406.9,13.44,-0.62],[6406.92,13.53,-0.59],[6406.94,13.6,-0.56],[6407.67,15.0,-0.1],[6407.7,15.05,-0.08],[6407.73,15.06,-0.07],[6407.76,15.08,-0.06],[6407.79,15.1,-0.06],[6407.82,15.13,-0.05],[6407.85,15.15,-0.05],[6407.88,15.16,-0.06],[6407.92,15.19,-0.06],[6408.68,15.68,0.01],[6408.72,15.72,0.02],[6408.76,15.72,0],[6408.8,15.74,0.01],[6408.84,15.75,0],[6408.87,15.74,-0.01],[6409.75,16.1,0.03],[6409.8,16.12,0.03],[6409.86,16.12,-0.01],[6409.9,16.13,-0.01],[6409.95,16.15,-0.01]];
const p4Green=[[6404.08,15.63,-0.02],[6406.07,13.16,0.12],[6406.08,13.13,0.11],[6406.09,13.1,0.1],[6406.11,13.04,0.07],[6406.12,13.01,0.05],[6406.13,12.98,0.04],[6406.15,12.93,0.0],[6406.16,12.94,0.02],[6406.17,12.96,0.05],[6406.19,13.03,0.1],[6406.2,13.06,0.12],[6406.21,13.1,0.15],[6406.23,13.16,0.2],[6406.24,13.18,0.22],[6406.25,13.19,0.24],[6407.23,14.49,-0.22],[6407.25,14.47,-0.24],[6407.27,14.5,-0.21],[6407.29,14.48,-0.23],[6407.31,14.49,-0.22],[6407.27,14.46,-0.25],[6407.27,14.52,-0.19],[6407.98,15.3,-0.03],[6408.0,15.33,0],[6408.0,15.36,0.05],[6408.02,15.32,-0.01],[6408.1,15.33,-0.05]];
const p4Red=[[6405.46,14.55,-0.03],[6405.48,14.54,-0.02],[6405.5,14.53,-0.02],[6405.53,14.5,0],[6405.55,14.48,0.01],[6405.57,14.45,0.02],[6406.5,12.75,-0.25],[6406.53,12.69,-0.36],[6406.56,12.57,-0.52]];

// ---------------- LAYOUT ----------------
const LEFT=119, RIGHT=1111;
const FONT='"Liberation Serif","Times New Roman",serif';
const AX='#3a3a3a', TXT='#2a2a2a';
const layout=[
 {top:1,sep:240,bottom:373,x:[6050,6100],y:[14,18.45],r:[-2.13,0.48],xMaj:10,xMin:2,rMaj:1,rMin:0.5},
 {top:467.7,sep:714,bottom:850.7,x:[6030,6065],y:[12,15.48],r:[-1.4,0.45],xMaj:5,xMin:1.25,rMaj:0.5,rMin:0.25},
 {top:945.7,sep:1192.3,bottom:1328.3,x:[6150,6153],y:[14.15,19.55],r:[-0.8,0.25],xMaj:0.5,xMin:0.1,rMaj:0.5,rMin:0.25},
 {top:1424,sep:1670,bottom:1806.7,x:[6402,6410],y:[12.2,16.575],r:[-1,0.5],xMaj:1,xMin:0.2,rMaj:0.5,rMin:0.25}
];
const panels=[
 {text:p1Text,xt:p1XTicks,yt:p1YTicks,rt:p1RTicks,err:p1Err,black:p1Black,mag:p1Magenta,blue:p1Blue.concat(p1BlueMore),green:p1Green.concat(p1GreenMore),red:p1Red},
 {text:p2Text,xt:p2XTicks,yt:p2YTicks,rt:p2RTicks,err:p2Err,black:p2Black,mag:p2Magenta,blue:p2Blue.concat(p2BlueMore),green:p2Green,red:p2Red},
 {text:p3Text,xt:p3XTicks,yt:p3YTicks,rt:p3RTicks,err:p3Err,black:p3Black,mag:p3Magenta,blue:p3Blue,green:p3Green,red:p3Red},
 {text:p4Text,xt:p4XTicks,yt:p4YTicks,rt:p4RTicks,err:p4Err,black:p4Black,mag:p4Magenta,blue:p4Blue,green:p4Green,red:p4Red}
];

const svg=d3.select('#c');
const defs=svg.append('defs');

function stepTicks(d0,d1,step){
  const lo=Math.min(d0,d1),hi=Math.max(d0,d1),out=[];
  for(let i=Math.ceil(lo/step-1e-6);i*step<=hi+1e-6;i++) out.push(+(i*step).toFixed(6));
  return out;
}
function styleAxis(g){
  g.attr('font-family',FONT).attr('font-size',28);
  g.select('.domain').remove();
  g.selectAll('line').attr('stroke',AX).attr('stroke-width',1.5);
  g.selectAll('text').attr('fill',TXT);
}
function hasLabel(list,d){return list.some(v=>Math.abs(v-d)<1e-6);}

function subAxes(g,x,y,y0,y1,yMaj,yMin,yLabels,xLabels,L){
  const xMaj=stepTicks(L.x[0],L.x[1],L.xMaj), xMin=stepTicks(L.x[0],L.x[1],L.xMin).filter(v=>!hasLabel(xMaj,v));
  const yMinF=yMin.filter(v=>!hasLabel(yMaj,v));
  g.append('g').attr('transform',`translate(${LEFT},0)`).call(d3.axisLeft(y).tickValues(yMaj).tickSize(-13).tickPadding(19).tickFormat(d=>hasLabel(yLabels,d)?String(d):'')).call(styleAxis);
  g.append('g').attr('transform',`translate(${LEFT},0)`).call(d3.axisLeft(y).tickValues(yMinF).tickSize(-7).tickFormat('')).call(styleAxis);
  g.append('g').attr('transform',`translate(${RIGHT},0)`).call(d3.axisRight(y).tickValues(yMaj).tickSize(-13).tickFormat('')).call(styleAxis);
  g.append('g').attr('transform',`translate(${RIGHT},0)`).call(d3.axisRight(y).tickValues(yMinF).tickSize(-7).tickFormat('')).call(styleAxis);
  g.append('g').attr('transform',`translate(0,${y0})`).call(d3.axisTop(x).tickValues(xMaj).tickSize(-13).tickFormat('')).call(styleAxis);
  g.append('g').attr('transform',`translate(0,${y0})`).call(d3.axisTop(x).tickValues(xMin).tickSize(-7).tickFormat('')).call(styleAxis);
  const b=g.append('g').attr('transform',`translate(0,${y1})`).call(d3.axisBottom(x).tickValues(xMaj).tickSize(-13).tickPadding(18).tickFormat(d=>xLabels&&hasLabel(xLabels,d)?String(d):'')).call(styleAxis);
  b.selectAll('text').attr('dx',-8);
  g.append('g').attr('transform',`translate(0,${y1})`).call(d3.axisBottom(x).tickValues(xMin).tickSize(-7).tickFormat('')).call(styleAxis);
  g.append('rect').attr('x',LEFT).attr('y',y0).attr('width',RIGHT-LEFT).attr('height',y1-y0).attr('fill','none').attr('stroke',AX).attr('stroke-width',2);
}

function drawSet(g,data,x,y,vi,defErr,shape,color){
  const pts=data.filter(d=>d[vi]!==null&&d[vi]!==undefined);
  const gg=g.append('g');
  gg.selectAll('line').data(pts).join('line')
    .attr('x1',d=>x(d[0])).attr('x2',d=>x(d[0]))
    .attr('y1',d=>y(d[vi]-(d[3]!==undefined?d[3]:defErr)))
    .attr('y2',d=>y(d[vi]+(d[3]!==undefined?d[3]:defErr)))
    .attr('stroke',color).attr('stroke-width',1.3);
  if(shape==='circle'){
    gg.selectAll('circle').data(pts).join('circle')
      .attr('cx',d=>x(d[0])).attr('cy',d=>y(d[vi])).attr('r',5)
      .attr('fill','none').attr('stroke',color).attr('stroke-width',1.6);
  } else if(shape==='square'){
    gg.selectAll('rect').data(pts).join('rect')
      .attr('x',d=>x(d[0])-4).attr('y',d=>y(d[vi])-4).attr('width',8).attr('height',8)
      .attr('fill','none').attr('stroke',color).attr('stroke-width',1.5);
  } else {
    gg.selectAll('path').data(pts).join('path')
      .attr('d',d=>{const cx=x(d[0]),cy=y(d[vi]);return `M${cx},${cy-6}L${cx+5},${cy}L${cx},${cy+6}L${cx-5},${cy}Z`;})
      .attr('fill','none').attr('stroke',color).attr('stroke-width',1.5);
  }
}

const BLUE='#0000ff', RED='#ff0000', GREEN='#00ea00', MAG='#ff00ff';

panels.forEach((P,i)=>{
  const L=layout[i];
  const x=d3.scaleLinear().domain(L.x).range([LEFT,RIGHT]);
  const y=d3.scaleLinear().domain(L.y).range([L.top,L.sep]);
  const r=d3.scaleLinear().domain(L.r).range([L.sep,L.bottom]);
  const g=svg.append('g');
  defs.append('clipPath').attr('id','cm'+i).append('rect').attr('x',LEFT).attr('y',L.top).attr('width',RIGHT-LEFT).attr('height',L.sep-L.top);
  defs.append('clipPath').attr('id','cr'+i).append('rect').attr('x',LEFT).attr('y',L.sep).attr('width',RIGHT-LEFT).attr('height',L.bottom-L.sep);
  const line=d3.line().x(d=>x(d[0])).y(d=>y(d[1])).curve(d3.curveMonotoneX);

  const gm=g.append('g').attr('clip-path',`url(#cm${i})`);
  gm.append('path').datum(P.black).attr('d',line).attr('fill','none').attr('stroke','#000').attr('stroke-width',1.6);
  drawSet(gm,P.green,x,y,1,P.err[1],'diamond',GREEN);
  drawSet(gm,P.red,x,y,1,P.err[2],'square',RED);
  drawSet(gm,P.blue,x,y,1,P.err[0],'circle',BLUE);
  gm.append('path').datum(P.mag).attr('d',line).attr('fill','none').attr('stroke',MAG).attr('stroke-width',2).attr('stroke-dasharray','12,3,2,3');

  const gr=g.append('g').attr('clip-path',`url(#cr${i})`);
  gr.append('line').attr('x1',LEFT).attr('x2',RIGHT).attr('y1',r(0)).attr('y2',r(0)).attr('stroke','#000').attr('stroke-width',1.6);
  drawSet(gr,P.green,x,r,2,P.err[1],'diamond',GREEN);
  drawSet(gr,P.red,x,r,2,P.err[2],'square',RED);
  drawSet(gr,P.blue,x,r,2,P.err[0],'circle',BLUE);

  const yMaj=stepTicks(L.y[0],L.y[1],1), yMin=stepTicks(L.y[0],L.y[1],0.5);
  const rMaj=stepTicks(L.r[0],L.r[1],L.rMaj), rMin=stepTicks(L.r[0],L.r[1],L.rMin);
  subAxes(g,x,y,L.top,L.sep,yMaj,yMin,P.yt,null,L);
  subAxes(g,x,r,L.sep,L.bottom,rMaj,rMin,P.rt,P.xt,L);

  P.text.forEach((t,k)=>{
    g.append('text').attr('x',189).attr('y',L.top+53+k*29.7).text(t)
      .attr('font-family',FONT).attr('font-size',24).attr('fill','#111');
  });
  g.append('text').attr('transform',`translate(28,${(L.top+L.sep)/2-13}) rotate(-90)`).attr('text-anchor','middle')
    .attr('font-family',FONT).attr('font-size',31).attr('fill',TXT).text('I-mag');
  g.append('text').attr('transform',`translate(28,${(L.sep+L.bottom)/2-4}) rotate(-90)`).attr('text-anchor','middle')
    .attr('font-family',FONT).attr('font-size',31).attr('fill',TXT).text('residuals');
});

svg.append('text').attr('x',600).attr('y',1873).attr('text-anchor','middle')
  .attr('font-family',FONT).attr('font-size',31).attr('fill',TXT).text('HJD-2450000');
</script></body></html>
